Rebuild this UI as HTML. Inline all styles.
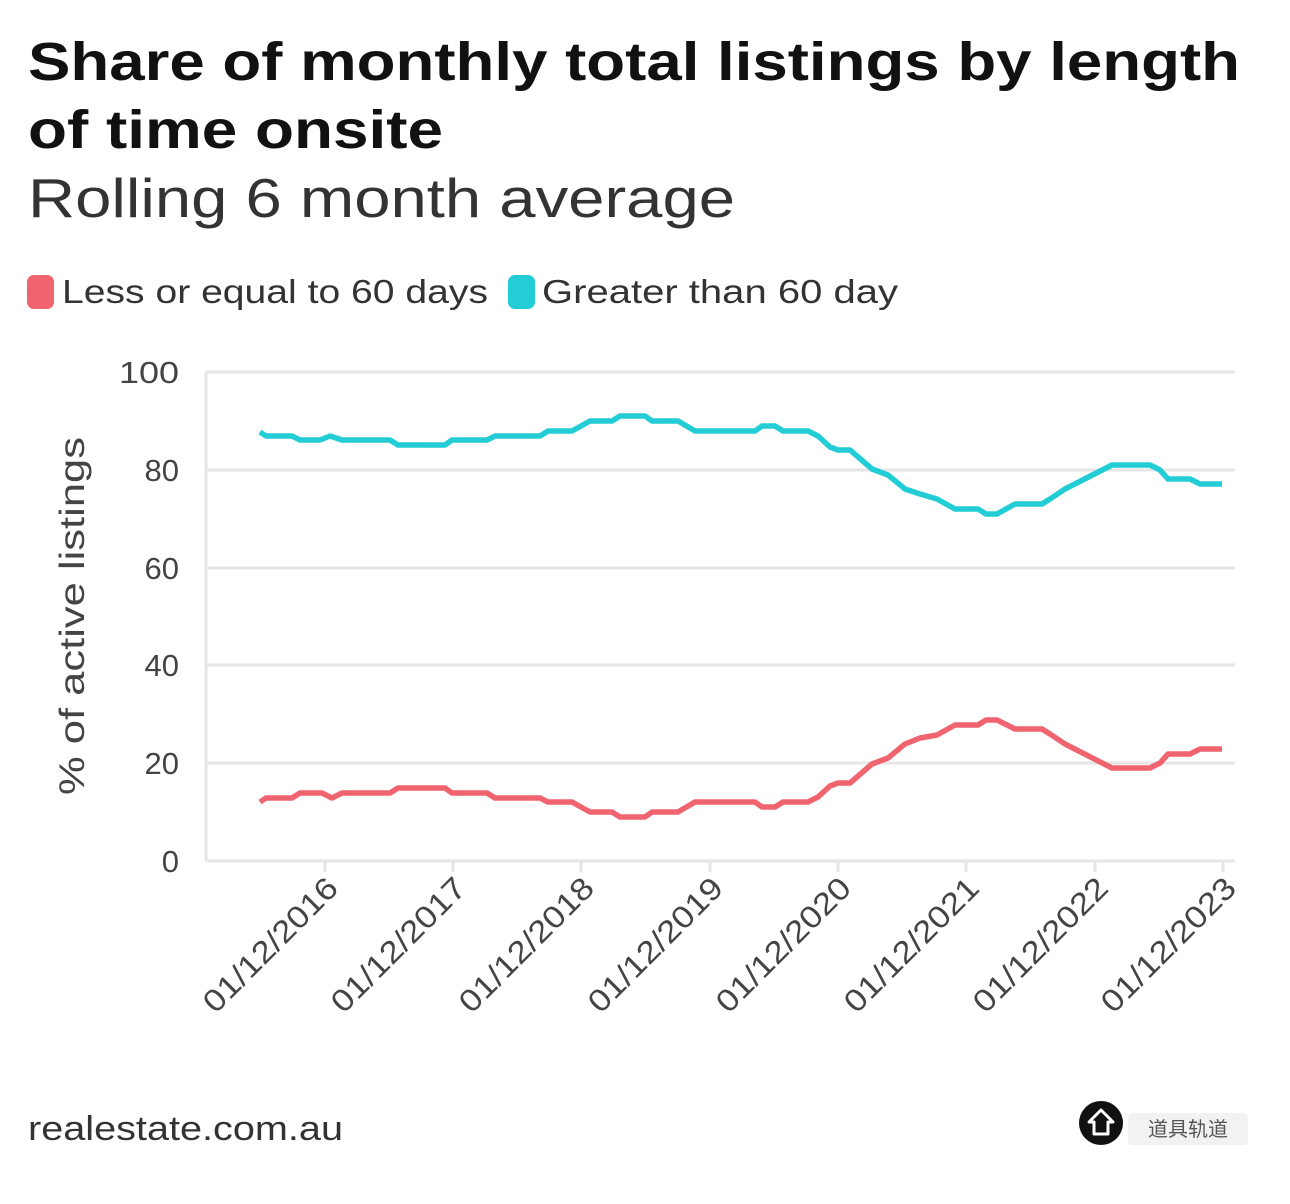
<!DOCTYPE html>
<html><head><meta charset="utf-8"><style>
body{margin:0;background:#fff;width:1290px;height:1199px;overflow:hidden;font-family:"Liberation Sans","Noto Sans CJK SC",sans-serif;}
</style></head><body>
<svg width="1290" height="1199" xmlns="http://www.w3.org/2000/svg" font-family="Liberation Sans, Noto Sans CJK SC, sans-serif">
<text x="28" y="80" font-size="54" font-weight="bold" fill="#111" textLength="1212" lengthAdjust="spacingAndGlyphs">Share of monthly total listings by length</text>
<text x="28" y="148" font-size="54" font-weight="bold" fill="#111" textLength="415" lengthAdjust="spacingAndGlyphs">of time onsite</text>
<text x="28" y="217" font-size="55" fill="#333" textLength="707" lengthAdjust="spacingAndGlyphs">Rolling 6 month average</text>
<rect x="27" y="275" width="27" height="34" rx="7" fill="#f06470"/>
<text x="62" y="303" font-size="33" fill="#333" textLength="426" lengthAdjust="spacingAndGlyphs">Less or equal to 60 days</text>
<rect x="508" y="275" width="27" height="34" rx="7" fill="#22cdd6"/>
<text x="542" y="303" font-size="33" fill="#333" textLength="356" lengthAdjust="spacingAndGlyphs">Greater than 60 day</text>
<g stroke="#e6e6e6" stroke-width="3">
<line x1="206" y1="372" x2="1235" y2="372"/><line x1="206" y1="470" x2="1235" y2="470"/>
<line x1="206" y1="568" x2="1235" y2="568"/><line x1="206" y1="665" x2="1235" y2="665"/>
<line x1="206" y1="763" x2="1235" y2="763"/><line x1="206" y1="861" x2="1235" y2="861"/>
<line x1="206" y1="372" x2="206" y2="861"/>
<line x1="325" y1="861" x2="325" y2="872"/><line x1="453" y1="861" x2="453" y2="872"/><line x1="581" y1="861" x2="581" y2="872"/><line x1="710" y1="861" x2="710" y2="872"/><line x1="838" y1="861" x2="838" y2="872"/><line x1="966" y1="861" x2="966" y2="872"/><line x1="1095" y1="861" x2="1095" y2="872"/><line x1="1223" y1="861" x2="1223" y2="872"/>
</g>
<g font-size="31" fill="#444" text-anchor="end">
<text x="179" y="383" textLength="60" lengthAdjust="spacingAndGlyphs">100</text><text x="179" y="481">80</text><text x="179" y="579">60</text><text x="179" y="676">40</text><text x="179" y="774">20</text><text x="179" y="872">0</text>
</g>
<text transform="translate(84,616) rotate(-90)" font-size="35" fill="#444" text-anchor="middle" textLength="358" lengthAdjust="spacingAndGlyphs">% of active listings</text>
<g font-size="31" fill="#444" text-anchor="end">
<text transform="translate(340,890) rotate(-45)" textLength="176" lengthAdjust="spacingAndGlyphs">01/12/2016</text>
<text transform="translate(468,890) rotate(-45)" textLength="176" lengthAdjust="spacingAndGlyphs">01/12/2017</text>
<text transform="translate(596,890) rotate(-45)" textLength="176" lengthAdjust="spacingAndGlyphs">01/12/2018</text>
<text transform="translate(725,890) rotate(-45)" textLength="176" lengthAdjust="spacingAndGlyphs">01/12/2019</text>
<text transform="translate(853,890) rotate(-45)" textLength="176" lengthAdjust="spacingAndGlyphs">01/12/2020</text>
<text transform="translate(981,890) rotate(-45)" textLength="176" lengthAdjust="spacingAndGlyphs">01/12/2021</text>
<text transform="translate(1110,890) rotate(-45)" textLength="176" lengthAdjust="spacingAndGlyphs">01/12/2022</text>
<text transform="translate(1238,890) rotate(-45)" textLength="176" lengthAdjust="spacingAndGlyphs">01/12/2023</text>
</g>
<polyline fill="none" stroke="#22cdd6" stroke-width="5.5" stroke-linejoin="round" points="260,432 266,436 292,436 300,440 320,440 330,436 342,440 390,440 398,445 445,445 452,440 487,440 495,436 540,436 548,431 572,431 590,421 612,421 620,416 645,416 652,421 678,421 695,431 755,431 762,426 775,426 783,431 808,431 818,436 830,447 838,450 850,450 872,469 888,475 905,489 920,494 937,499 955,509 978,509 986,514 997,514 1015,504 1042,504 1050,499 1065,489 1112,465 1150,465 1160,470 1168,479 1190,479 1200,484 1222,484"/>
<polyline fill="none" stroke="#f06470" stroke-width="5.5" stroke-linejoin="round" points="260,802 266,798 292,798 300,793 322,793 332,798 342,793 390,793 398,788 445,788 452,793 487,793 495,798 540,798 548,802 572,802 590,812 612,812 620,817 645,817 652,812 678,812 695,802 755,802 762,807 775,807 783,802 808,802 818,797 830,786 838,783 850,783 872,764 888,758 905,744 920,738 937,735 955,725 978,725 986,720 997,720 1015,729 1042,729 1050,734 1065,744 1112,768 1150,768 1160,763 1168,754 1190,754 1200,749 1222,749"/>
<text x="28" y="1140" font-size="34" fill="#333" textLength="315" lengthAdjust="spacingAndGlyphs">realestate.com.au</text>
<circle cx="1101" cy="1123" r="22" fill="#111"/>
<path d="M1101 1110 L1113 1122 L1108 1122 L1108 1134 L1094 1134 L1094 1122 L1089 1122 Z" fill="none" stroke="#fff" stroke-width="3" stroke-linejoin="round"/>
<rect x="1128" y="1113" width="120" height="32" rx="4" fill="#f2f2f2"/>
<text x="1188" y="1136" font-size="20" fill="#555" text-anchor="middle">道具轨道</text>
</svg>
</body></html>
